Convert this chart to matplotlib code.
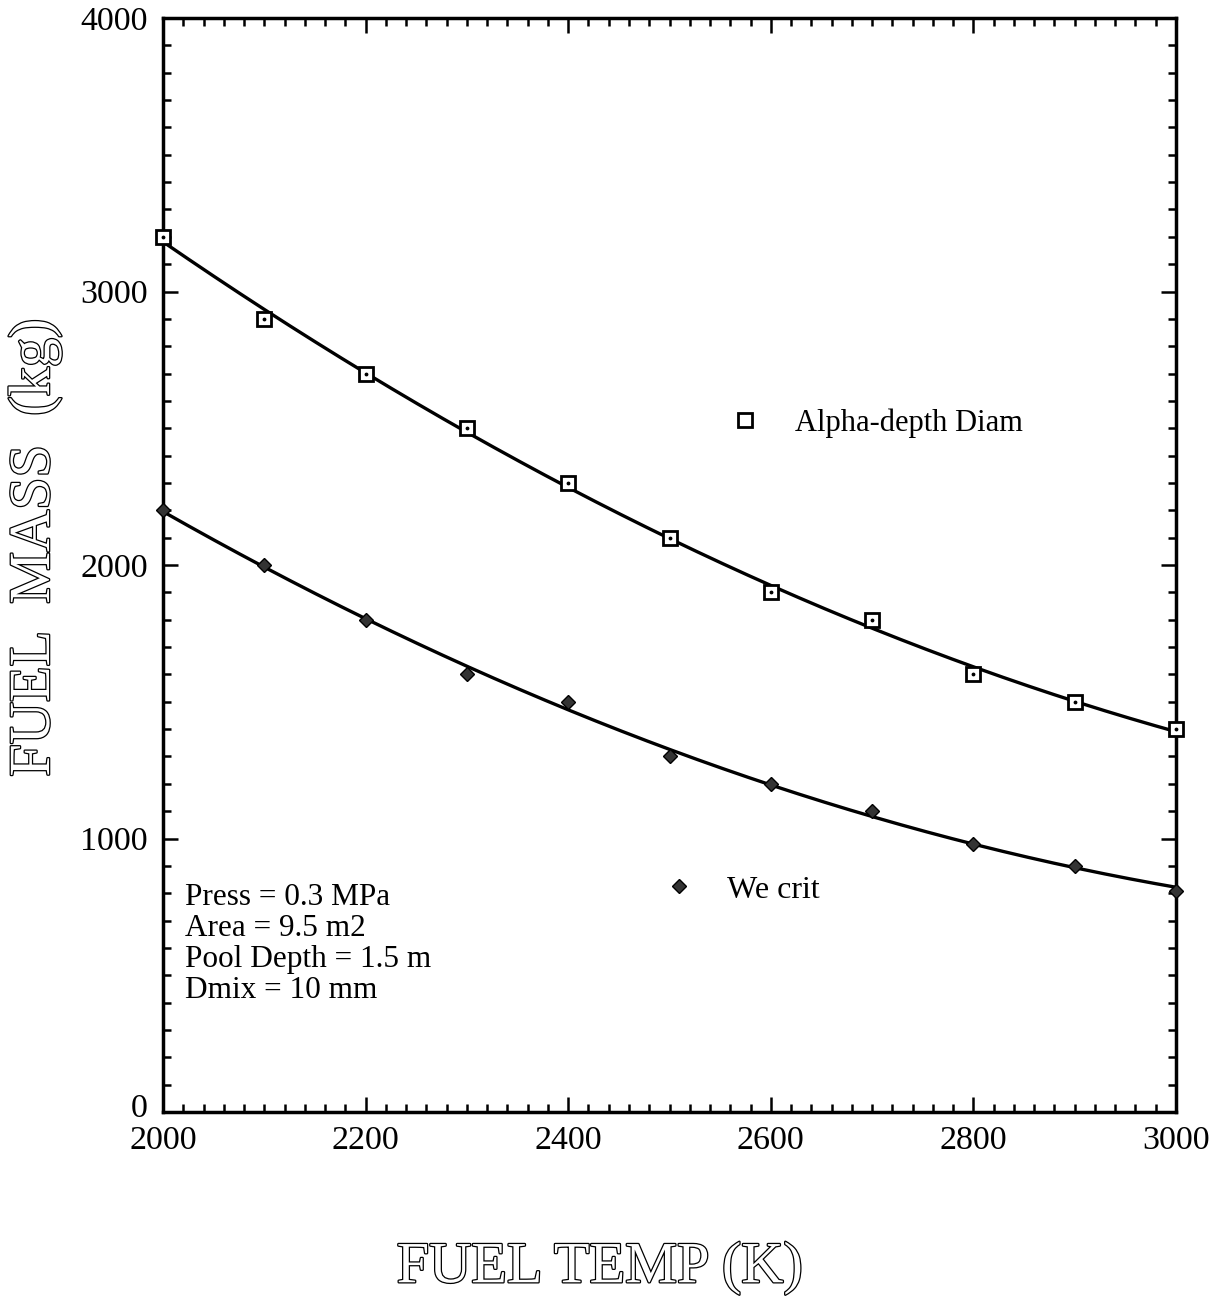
import matplotlib.pyplot as plt
import matplotlib.patheffects as pe
import matplotlib.transforms as mtransforms
from matplotlib.lines import Line2D
from matplotlib.ticker import MultipleLocator
import numpy as np

# fuel temperature (K)
temp = [2000, 2100, 2200, 2300, 2400, 2500, 2600, 2700, 2800, 2900, 3000]
# fuel mass (kg) for each criterion
alpha_diam = [3200, 2900, 2700, 2500, 2300, 2100, 1900, 1800, 1600, 1500, 1400]
we_crit = [2200, 2000, 1800, 1600, 1500, 1300, 1200, 1100, 980, 900, 810]

notes = "Press = 0.3 MPa\nArea = 9.5 m2\nPool Depth = 1.5 m\nDmix = 10 mm"

plt.rcParams['font.family'] = ['Liberation Serif', 'DejaVu Serif']

fig = plt.figure(figsize=(12.12, 12.97), dpi=100)
ax = fig.add_axes([0.1345, 0.1426, 0.8358, 0.8435])

t = np.array(temp, dtype=float)
tt = np.linspace(2000, 3000, 200)
for ys in (alpha_diam, we_crit):
	c = np.polyfit(t - 2500, ys, 2)
	ax.plot(tt, np.polyval(c, tt - 2500), color='black', lw=2.4, zorder=2)

ax.plot(temp, alpha_diam, ls='none', marker='s', ms=10, mfc='white', mec='black',
	mew=2, zorder=3, clip_on=False)
ax.plot(temp, alpha_diam, ls='none', marker='.', ms=3.5, color='black', zorder=4, clip_on=False)
ax.plot(temp, we_crit, ls='none', marker='D', ms=7.5, color='#333333', mec='black',
	mew=1, zorder=3, clip_on=False)

ax.set_xlim(2000, 3000)
ax.set_ylim(0, 4000)
ax.xaxis.set_major_locator(MultipleLocator(200))
ax.xaxis.set_minor_locator(MultipleLocator(20))
ax.yaxis.set_major_locator(MultipleLocator(1000))
ax.yaxis.set_minor_locator(MultipleLocator(100))
ax.tick_params(which='both', direction='in', top=True, right=True, width=1.8,
	labelsize=24.5, colors='black')
ax.tick_params(which='major', length=11)
ax.tick_params(which='minor', length=6)
ax.tick_params(axis='x', pad=10)
ax.tick_params(axis='y', pad=11)
for s in ax.spines.values():
	s.set_linewidth(2.5)

# legend entries placed inside the plot
h1 = Line2D([], [], ls='none', marker='s', ms=10, mfc='white', mec='black', mew=2)
h2 = Line2D([], [], ls='none', marker='D', ms=7.5, color='#333333', mec='black', mew=1)
leg1 = ax.legend([h1], ['Alpha-depth Diam'], loc='center left', bbox_to_anchor=(0.529, 0.630),
	frameon=False, fontsize=22, handlelength=1.2, handletextpad=1.05)
ax.add_artist(leg1)
ax.legend([h2], ['We crit'], loc='center left', bbox_to_anchor=(0.462, 0.203),
	frameon=False, fontsize=23, handlelength=1.2, handletextpad=0.9)

ax.text(0.022, 0.209, notes, transform=ax.transAxes, ha='left', va='top',
	fontsize=22.5, linespacing=1.08)

outline = [pe.withStroke(linewidth=1.8, foreground='black')]
fig.text(0.495, 0.022, 'FUEL TEMP (K)', ha='center', va='center', fontsize=42,
	color='white', path_effects=outline)
fig.text(0.029, 0.578, 'FUEL  MASS  (kg)', ha='center', va='center', rotation=90,
	fontsize=42, color='white', path_effects=outline)

# lift the "0" label a little so it clears the "2000" below it
fig.canvas.draw()
for lab in ax.get_yticklabels():
	if lab.get_text() == '0':
		lab.set_transform(lab.get_transform() +
			mtransforms.ScaledTranslation(0, 5 / 72, fig.dpi_scale_trans))

fig.savefig('out.png', dpi=100, facecolor='white')
